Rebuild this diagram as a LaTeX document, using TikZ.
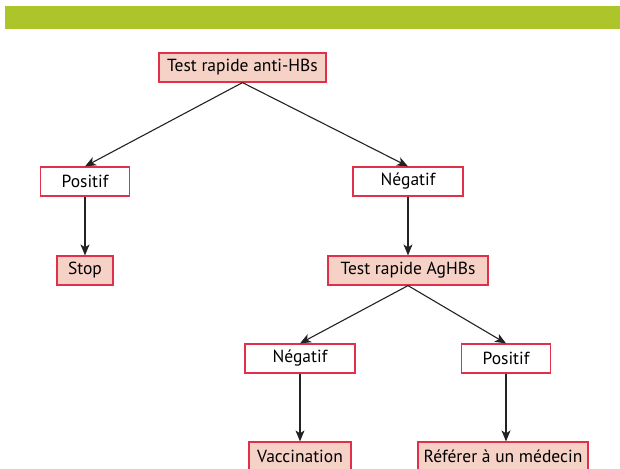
\documentclass[tikz,border=0pt]{standalone}
\usepackage{fontspec}
\setmainfont{PT Sans}
\usepackage{xcolor}
\definecolor{barGreen}{HTML}{ADC42A}
\definecolor{boxRed}{HTML}{E0304A}
\definecolor{boxFill}{HTML}{F5D1C6}
\definecolor{arrowDark}{HTML}{222222}
\usetikzlibrary{arrows.meta}

\begin{document}
\begin{tikzpicture}[x=1pt, y=1pt,
    answerbox/.style={draw=boxRed, line width=1.2pt, fill=white, minimum height=29pt, inner sep=2pt, font=\fontsize{17.5}{20}\selectfont},
    resultbox/.style={answerbox, fill=boxFill},
    flow/.style={-{Stealth[length=11pt, width=9pt, inset=3pt]}, arrowDark, line width=1.1pt}]
  \useasboundingbox (0,0) rectangle (620,-468);
  \fill[barGreen] (5,-6) rectangle (620,-29);
  \node[resultbox, minimum width=167pt] (T1) at (242.5,-67.5) {Test rapide anti-HBs};
  \node[answerbox, minimum width=89pt] (P1) at (85,-181.5) {Positif};
  \node[answerbox, minimum width=110pt] (N1) at (408,-181.5) {Négatif};
  \node[resultbox, minimum width=56pt] (S) at (85,-270.5) {Stop};
  \node[resultbox, minimum width=160pt] (T2) at (408,-270.5) {Test rapide AgHBs};
  \node[answerbox, minimum width=110pt] (N2) at (300,-358.5) {Négatif};
  \node[answerbox, minimum width=89pt] (P2) at (506,-358.5) {Positif};
  \node[resultbox, minimum width=102pt] (V) at (300,-456.5) {Vaccination};
  \node[resultbox, minimum width=170pt] (R) at (503,-456.5) {Référer à un médecin};
  \draw[flow] (T1.south) -- (P1.north);
  \draw[flow] (T1.south) -- (N1.north);
  \draw[flow] (P1) -- (S);
  \draw[flow] (N1) -- (T2);
  \draw[flow] (T2.south) -- (N2.north);
  \draw[flow] (T2.south) -- (P2.north);
  \draw[flow] (N2) -- (V);
  \draw[flow] (P2.south) -- (P2.south |- R.north);
\end{tikzpicture}
\end{document}
